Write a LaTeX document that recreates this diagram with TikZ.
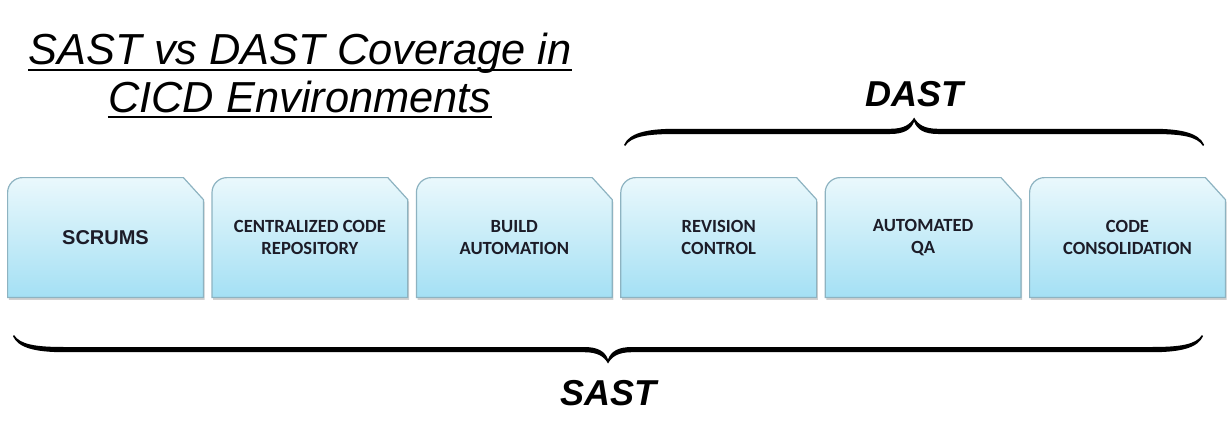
\documentclass[tikz,border=0pt]{standalone}
\usepackage{fontspec}
\setmainfont{Liberation Sans}
\newfontfamily\boxfont{Carlito}
\usetikzlibrary{positioning}
\usetikzlibrary{backgrounds}
\usetikzlibrary{calc}

\definecolor{stagetop}{HTML}{EAF8FC}
\definecolor{stagebot}{HTML}{A4E0F4}
\definecolor{stageline}{HTML}{8DB3C1}
\definecolor{stagetext}{HTML}{1C1C28}

% outline of one stage box: rounded top left, cut top right
\newcommand{\stagepath}[1]{(#1.south west) -- ([yshift=-7.5pt]#1.north west)
  arc[start angle=180,end angle=90,radius=7.5pt] -- ([xshift=-10pt]#1.north east)
  -- ([yshift=-11pt]#1.north east) -- (#1.south east) -- cycle}

% curly brace with tapered ends, #1 = half width, tip points up
\tikzset{
  pics/coverbrace/.style={code={
    \foreach \s in {1,-1} {
      \fill[xscale=\s] (-#1,-0.2pt) .. controls (-#1+3pt,4.6pt) and (-#1+11pt,5.8pt) .. (-#1+25pt,5.8pt)
        -- (-12pt,5.8pt) .. controls (-5pt,5.8pt) and (-1.5pt,8pt) .. (0,12pt)
        -- (0,14pt) .. controls (-2pt,10.6pt) and (-5pt,8.4pt) .. (-12pt,8.4pt)
        -- (-#1+25pt,8.4pt) .. controls (-#1+10pt,8.4pt) and (-#1+2pt,6pt) .. (-#1-0.5pt,0.4pt) -- cycle;
    }
  }}
}

\begin{document}
\begin{tikzpicture}[
    stage/.style={minimum width=97.5pt,minimum height=59.5pt,inner sep=0pt,align=center,
      font=\boxfont\bfseries\fontsize{9.3}{11}\selectfont,text=stagetext},
    ttl/.style={inner sep=0pt,font=\itshape\fontsize{21.7}{23.5}\selectfont},
    cover/.style={inner sep=0pt,font=\bfseries\itshape\fontsize{18}{20}\selectfont},
    node distance=4.3pt,
  ]
  \useasboundingbox (0,0) rectangle (615pt,220pt);

  % title
  \node[ttl,anchor=base] (ttl1) at (150pt,187.5pt) {SAST vs DAST Coverage in};
  \node[ttl,anchor=base] (ttl2) at ([yshift=-23.5pt]ttl1.base) {CICD Environments};
  \draw[line width=1.1pt] ([yshift=-2.5pt]ttl1.base west) -- ([yshift=-2.5pt]ttl1.base east);
  \draw[line width=1.1pt] ([yshift=-2.5pt]ttl2.base west) -- ([yshift=-2.5pt]ttl2.base east);

  % stages
  \node[stage,font=\bfseries\fontsize{10}{11}\selectfont] (scr) at (52.75pt,101.25pt) {SCRUMS};
  \node[stage,right=of scr] (ccr) {CENTRALIZED CODE\\REPOSITORY};
  \node[stage,right=of ccr] (bld) {BUILD\\AUTOMATION};
  \node[stage,right=of bld] (rev) {REVISION\\CONTROL};
  \node[stage,right=of rev] (aqa) {AUTOMATED\\QA};
  \node[stage,right=of aqa] (ccs) {CODE\\CONSOLIDATION};

  \begin{scope}[on background layer]
    \foreach \n in {scr,ccr,bld,rev,aqa,ccs} {
      \fill[black!30,opacity=.6,transform canvas={shift={(0.6pt,-1.2pt)}}] \stagepath{\n};
      \shade[top color=stagetop,bottom color=stagebot,draw=stageline,line width=.6pt] \stagepath{\n};
    }
  \end{scope}

  % coverage braces
  \coordinate (dastmid) at ($([shift={(1.5pt,16pt)}]rev.north west)!.5!([shift={(-10.5pt,16pt)}]ccs.north east)$);
  \coordinate (sastmid) at ($([shift={(2pt,-19pt)}]scr.south west)!.5!([shift={(-10.5pt,-19pt)}]ccs.south east)$);
  \pic at (dastmid) {coverbrace=144.5pt};
  \pic[yscale=-1] at (sastmid) {coverbrace=297pt};
  \node[cover,anchor=base] (dast) at ([yshift=19.5pt]dastmid) {DAST};
  \node[cover,anchor=base] (sast) at ([yshift=-35pt]sastmid) {SAST};
\end{tikzpicture}
\end{document}
